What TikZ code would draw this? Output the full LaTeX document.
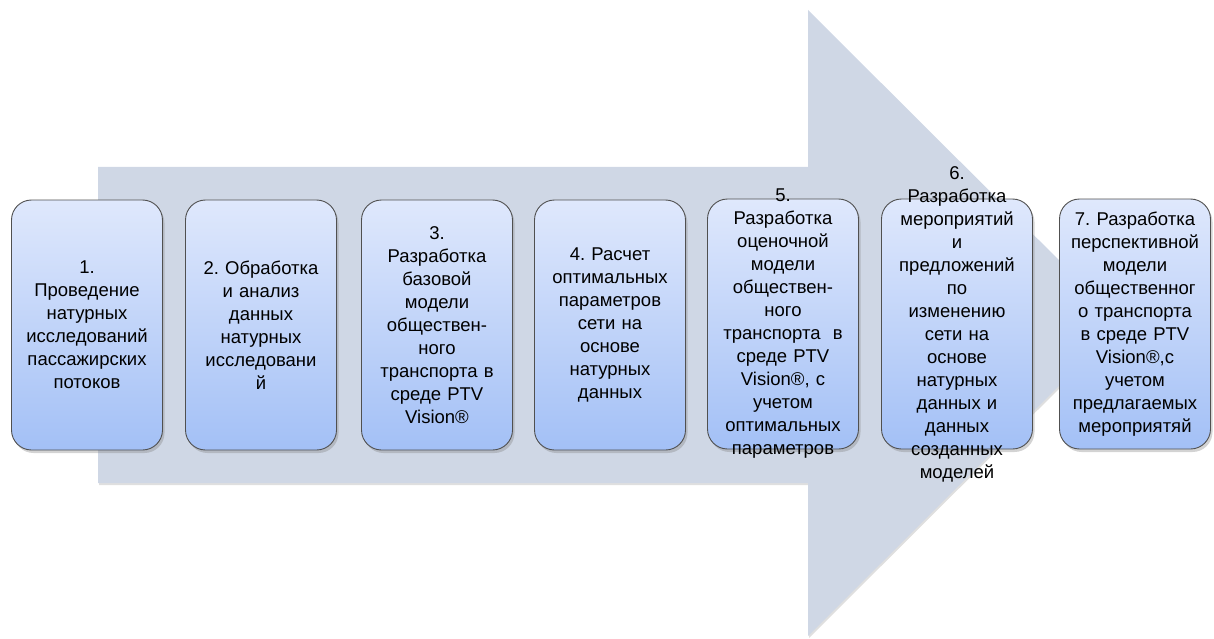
\documentclass[tikz,border=0pt]{standalone}
\usepackage{fontspec}
\setmainfont{Liberation Sans}
\usetikzlibrary{shadows}
\definecolor{arrowbg}{HTML}{CFD7E5}
\definecolor{boxtop}{HTML}{DFE8FC}
\definecolor{boxbot}{HTML}{A3C0F6}
\definecolor{boxedge}{HTML}{505050}
\frenchspacing

\begin{document}
\begin{tikzpicture}[
    x=1pt, y=-1pt,
    stagebox/.style={
        rectangle, rounded corners=20pt, draw=boxedge, line width=0.9pt,
        top color=boxtop, bottom color=boxbot,
        minimum width=151pt, minimum height=250pt, inner sep=0pt,
        drop shadow={opacity=0.35, shadow xshift=2pt, shadow yshift=-3pt}
    },
    stagetext/.style={
        text width=152pt, align=center, inner sep=0pt,
        font=\fontsize{18.5pt}{23pt}\selectfont
    },
]
\useasboundingbox (0,0) rectangle (1214,639);

%% ============ BACKGROUND ARROW ============
%%   body: x 98..808, y 167..483;  head: tip at x 1122, base y 10..636
\fill[arrowbg, drop shadow={opacity=0.25, shadow xshift=1pt, shadow yshift=-2pt}]
    (98,167) -- (808,167) -- (808,10) -- (1122,323)
    -- (808,636) -- (808,483) -- (98,483) -- cycle;

%% ============ STAGES (pitch ~174.5) ============
\node[stagebox, label={[stagetext]center:{1.\\Проведение\\натурных\\исследований\\пассажирских\\потоков}}]
    (s1) at (87,325) {};

\node[stagebox, label={[stagetext]center:{2. Обработка\\и анализ\\данных\\натурных\\исследовани\\й}}]
    (s2) at (261,325) {};

\node[stagebox, label={[stagetext]center:{3.\\Разработка\\базовой\\модели\\обществен-\\ного\\транспорта в\\среде PTV\\Vision®}}]
    (s3) at (437,325) {};

\node[stagebox, label={[stagetext]center:{4. Расчет\\оптимальных\\параметров\\сети на\\основе\\натурных\\данных}}]
    (s4) at (610,325) {};

% text runs past the top and bottom edges here
\node[stagebox, label={[stagetext]center:{5.\\Разработка\\оценочной\\модели\\обществен-\\ного\\транспорта~ в\\среде PTV\\Vision®, с\\учетом\\оптимальных\\параметров}}]
    (s5) at (783,324) {};

\node[stagebox, label={[stagetext]center:{6.\\Разработка\\мероприятий\\и\\предложений\\по\\изменению\\сети на\\основе\\натурных\\данных и\\данных\\созданных\\моделей}}]
    (s6) at (957,324) {};

\node[stagebox, label={[stagetext]center:{7. Разработка\\перспективной\\модели\\общественног\\о транспорта\\в среде PTV\\Vision®,с\\учетом\\предлагаемых\\мероприятяй}}]
    (s7) at (1135,324) {};

\end{tikzpicture}
\end{document}
